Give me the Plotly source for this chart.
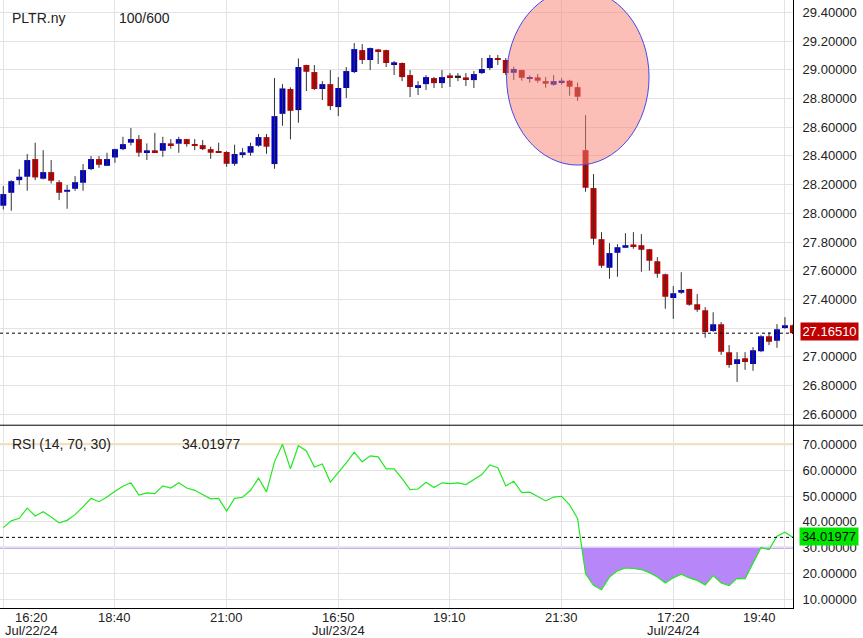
import plotly.graph_objects as go

# ---------------- data (10-minute bars) ----------------
open_ = [28.053, 28.143, 28.231, 28.255, 28.378, 28.241, 28.287, 28.217, 28.150, 28.171,
         28.213, 28.308, 28.378, 28.331, 28.389, 28.447, 28.492, 28.517, 28.427, 28.433,
         28.436, 28.482, 28.485, 28.517, 28.482, 28.475, 28.447, 28.427, 28.427, 28.345,
         28.413, 28.422, 28.471, 28.531, 28.343, 28.693, 28.866, 28.719, 29.033, 28.984,
         28.866, 28.900, 28.740, 28.873, 28.984, 29.137, 29.068, 29.137, 29.137, 29.040,
         29.047, 28.963, 28.873, 28.900, 28.942, 28.907, 28.956, 28.947, 28.942, 28.928,
         28.977, 29.012, 29.082, 29.068, 28.979, 28.998, 28.937, 28.947, 28.921, 28.896,
         28.912, 28.924, 28.879, 28.440, 28.176, 27.820, 27.620, 27.725, 27.760, 27.778,
         27.778, 27.750, 27.667, 27.576, 27.411, 27.446, 27.472, 27.367, 27.325, 27.181,
         27.228, 27.033, 26.951, 26.991, 26.951, 27.040, 27.144, 27.112, 27.202, 27.221]
close = [28.134, 28.224, 28.255, 28.371, 28.250, 28.287, 28.227, 28.143, 28.164, 28.217,
         28.301, 28.378, 28.338, 28.378, 28.447, 28.482, 28.517, 28.422, 28.436, 28.427,
         28.489, 28.475, 28.517, 28.482, 28.471, 28.447, 28.422, 28.422, 28.345, 28.413,
         28.422, 28.468, 28.531, 28.464, 28.677, 28.870, 28.714, 29.019, 28.986, 28.866,
         28.900, 28.747, 28.873, 28.991, 29.144, 29.068, 29.151, 29.130, 29.047, 29.049,
         28.949, 28.880, 28.893, 28.949, 28.907, 28.949, 28.949, 28.947, 28.935, 28.970,
         29.005, 29.082, 29.068, 28.977, 29.005, 28.944, 28.944, 28.924, 28.903, 28.921,
         28.921, 28.882, 28.812, 28.178, 27.823, 27.634, 27.723, 27.764, 27.778, 27.771,
         27.746, 27.669, 27.579, 27.418, 27.444, 27.465, 27.363, 27.328, 27.174, 27.228,
         27.035, 26.944, 26.984, 26.965, 27.047, 27.144, 27.105, 27.193, 27.221, 27.1651]
high = [28.190, 28.231, 28.308, 28.413, 28.492, 28.440, 28.371, 28.231, 28.197, 28.259,
        28.343, 28.399, 28.399, 28.422, 28.450, 28.533, 28.594, 28.545, 28.487, 28.561,
        28.533, 28.517, 28.533, 28.519, 28.517, 28.510, 28.464, 28.492, 28.433, 28.478,
        28.454, 28.492, 28.552, 28.552, 28.942, 28.900, 28.877, 29.079, 29.035, 29.033,
        28.921, 28.998, 28.949, 29.019, 29.186, 29.179, 29.155, 29.144, 29.140, 29.061,
        29.050, 28.998, 28.921, 28.963, 28.950, 28.998, 28.977, 28.977, 28.977, 28.991,
        29.082, 29.103, 29.103, 29.082, 29.021, 29.000, 28.961, 28.970, 28.949, 28.963,
        28.942, 28.930, 28.910, 28.684, 28.273, 27.869, 27.792, 27.785, 27.862, 27.869,
        27.855, 27.752, 27.695, 27.580, 27.493, 27.590, 27.475, 27.437, 27.346, 27.311,
        27.242, 27.082, 27.033, 27.033, 27.068, 27.151, 27.172, 27.228, 27.277, 27.225]
low = [28.027, 28.018, 28.199, 28.157, 28.231, 28.236, 28.208, 28.092, 28.032, 28.157,
       28.157, 28.301, 28.317, 28.329, 28.352, 28.440, 28.473, 28.394, 28.371, 28.422,
       28.394, 28.450, 28.422, 28.464, 28.440, 28.440, 28.380, 28.420, 28.324, 28.331,
       28.387, 28.401, 28.464, 28.415, 28.310, 28.610, 28.515, 28.631, 28.852, 28.859,
       28.789, 28.719, 28.677, 28.803, 28.977, 29.040, 28.998, 29.040, 29.019, 28.963,
       28.921, 28.810, 28.824, 28.859, 28.873, 28.873, 28.880, 28.921, 28.887, 28.873,
       28.970, 28.998, 29.033, 28.963, 28.928, 28.924, 28.910, 28.910, 28.875, 28.889,
       28.896, 28.819, 28.784, 28.150, 27.781, 27.620, 27.544, 27.558, 27.758, 27.753,
       27.593, 27.600, 27.551, 27.335, 27.265, 27.439, 27.356, 27.314, 27.133, 27.174,
       27.014, 26.924, 26.826, 26.910, 26.903, 27.033, 27.082, 27.063, 27.195, 27.160]
rsi = [37.8, 40.4, 41.4, 45.3, 42.3, 43.9, 41.9, 39.6, 40.6, 42.8,
       45.8, 49.1, 47.8, 49.6, 51.8, 53.8, 55.1, 50.4, 51.2, 50.9,
       53.9, 53.1, 55.1, 53.1, 52.2, 50.7, 48.9, 49.1, 44.2, 49.1,
       49.5, 52.2, 56.9, 51.6, 63.2, 70.0, 60.5, 69.4, 67.4, 61.2,
       62.4, 55.4, 58.9, 62.8, 66.9, 63.2, 65.5, 65.1, 60.5, 60.5,
       56.7, 52.5, 52.7, 55.3, 53.3, 55.1, 54.8, 55.1, 54.4, 56.3,
       58.3, 62.0, 60.9, 53.9, 55.7, 51.3, 51.5, 49.8, 48.1, 49.6,
       49.9, 46.6, 41.3, 20.0, 15.5, 13.8, 18.7, 21.1, 22.2, 22.0,
       21.6, 20.4, 18.7, 16.4, 18.4, 19.8, 18.4, 17.4, 15.6, 19.3,
       16.4, 15.4, 18.2, 18.0, 23.9, 30.1, 29.3, 34.5, 36.0, 34.01977]

tick_idx = [0, 14, 28, 42, 56, 70, 84, 98]
tick_time = ["16:20", "18:40", "21:00", "16:50", "19:10", "21:30", "17:20", "19:40"]
tick_date = ["Jul/22/24", "", "", "Jul/23/24", "", "", "Jul/24/24", ""]
symbol = "PLTR.ny"
bars_info = "100/600"
rsi_params = (14, 70, 30)
last_price = close[-1]
last_rsi = rsi[-1]

# ---------------- styling ----------------
FONT = "Liberation Sans, Arial, sans-serif"
UP, DOWN, FLAT, WICK = "#0000c4", "#c00000", "#222222", "#333333"
n = len(close)
x = list(range(n))

fig = go.Figure()

# wicks
wx, wy = [], []
for i in range(n):
    wx += [i, i, None]
    wy += [low[i], high[i], None]
fig.add_trace(go.Scatter(x=wx, y=wy, mode="lines", line=dict(color=WICK, width=1),
                         xaxis="x", yaxis="y", hoverinfo="skip"))

# bodies
base = [min(o, c) for o, c in zip(open_, close)]
height = [max(abs(c - o), 0.012) for o, c in zip(open_, close)]
colors = [UP if c > o else (DOWN if c < o else FLAT) for o, c in zip(open_, close)]
fig.add_trace(go.Bar(x=x, y=height, base=base, width=0.75, marker=dict(color=colors, line=dict(width=0)),
                     xaxis="x", yaxis="y", hoverinfo="skip"))

# RSI oversold fill (below 30)
lo = rsi_params[2]
fx, fy = [], []
for i in range(n):
    v = rsi[i]
    if i > 0:
        pv = rsi[i - 1]
        if (pv < lo) != (v < lo):
            t = (lo - pv) / (v - pv)
            fx.append(i - 1 + t); fy.append(lo)
            if not v < lo:
                fx.append(None); fy.append(None)
    if v < lo:
        fx.append(i); fy.append(v)
fig.add_trace(go.Scatter(x=fx, y=fy, mode="lines", fill="toself", fillcolor="#b786f8",
                         line=dict(width=0, color="#b786f8"), xaxis="x2", yaxis="y2", hoverinfo="skip"))
fig.add_trace(go.Scatter(x=x, y=rsi, mode="lines", line=dict(color="#22e822", width=1.2),
                         xaxis="x2", yaxis="y2", hoverinfo="skip"))

SPLIT = 182.7 / 607.7
shapes = [
    dict(type="line", xref="paper", yref="y2", x0=0, x1=1, y0=rsi_params[1], y1=rsi_params[1],
         line=dict(color="#f8d48c", width=2), layer="below"),
    dict(type="line", xref="paper", yref="y2", x0=0, x1=1, y0=lo, y1=lo,
         line=dict(color="#b48ef2", width=2), layer="below"),
    dict(type="line", xref="paper", yref="y", x0=0, x1=1, y0=last_price, y1=last_price,
         line=dict(color="black", width=1, dash="3px,3px"), layer="above"),
    dict(type="line", xref="paper", yref="y2", x0=0, x1=1, y0=last_rsi, y1=last_rsi,
         line=dict(color="black", width=1, dash="3px,3px"), layer="above"),
    dict(type="circle", xref="x", yref="y", x0=63.1, x1=80.96, y0=28.336, y1=29.562,
         fillcolor="rgba(250,128,114,0.5)", line=dict(color="rgb(70,70,235)", width=1), layer="above"),
    dict(type="line", xref="paper", yref="paper", x0=0, x1=863 / 793, y0=SPLIT, y1=SPLIT,
         line=dict(color="black", width=1)),
]

ann = []
tf = dict(family=FONT, size=14, color="#222222")
af = dict(family=FONT, size=13, color="#222222")
ann.append(dict(text=symbol, xref="paper", yref="paper", x=10 / 793, y=1, xanchor="left",
                yanchor="middle", yshift=-18, showarrow=False, font=tf))
ann.append(dict(text=bars_info, xref="paper", yref="paper", x=117 / 793, y=1, xanchor="left",
                yanchor="middle", yshift=-18, showarrow=False, font=tf))
ann.append(dict(text="RSI (%d, %d, %d)" % rsi_params, xref="paper", yref="y2", x=10 / 793, y=rsi_params[1],
                xanchor="left", yanchor="middle", showarrow=False, font=tf))
ann.append(dict(text="%.5f" % last_rsi, xref="paper", yref="y2", x=180 / 793, y=rsi_params[1],
                xanchor="left", yanchor="middle", showarrow=False, font=tf))
ann.append(dict(text="%.5f" % last_price, xref="paper", yref="y", x=1, y=last_price, xanchor="left",
                yanchor="middle", xshift=7, yshift=2, width=55, align="center", borderpad=1,
                bgcolor=DOWN, showarrow=False, font=dict(family=FONT, size=13, color="white")))
ann.append(dict(text="%.5f" % last_rsi, xref="paper", yref="y2", x=1, y=last_rsi, xanchor="left",
                yanchor="middle", xshift=6, yshift=1, width=56, align="center", borderpad=1,
                bgcolor="#00e600", showarrow=False, font=dict(family=FONT, size=13, color="black")))
for k, (ti, tt, td) in enumerate(zip(tick_idx, tick_time, tick_date)):
    shift = 28 if k == 0 else (-25 if k == len(tick_idx) - 1 else 0)
    ann.append(dict(text=tt, xref="x2", yref="paper", x=ti, y=0, xshift=shift, yshift=-9.5,
                    yanchor="middle", showarrow=False, font=af))
    if td:
        ann.append(dict(text=td, xref="x2", yref="paper", x=ti, y=0, xshift=shift, yshift=-22.5,
                        yanchor="middle", showarrow=False, font=af))

xr = [-3.3 / 7.976, (793 - 3.3) / 7.976]
grid = "#e3e3e3"
common_x = dict(tickmode="array", tickvals=tick_idx, showticklabels=False, ticks="",
                showgrid=True, gridcolor=grid, gridwidth=1, zeroline=False, fixedrange=True)

fig.update_layout(
    width=863, height=638,
    margin=dict(l=0, r=70, t=0, b=30.3),
    paper_bgcolor="white", plot_bgcolor="white",
    showlegend=False, hovermode=False, barmode="overlay",
    font=dict(family=FONT, size=13, color="#222222"),
    xaxis=dict(domain=[0, 1], anchor="y", range=xr, showline=False, **common_x),
    xaxis2=dict(domain=[0, 1], anchor="y2", matches="x", showline=True, linecolor="black", linewidth=1,
                **common_x),
    yaxis=dict(domain=[SPLIT, 1], anchor="x", side="right", range=[26.524, 29.486],
               tickmode="linear", tick0=26.6, dtick=0.2, tickformat=".5f",
               showgrid=True, gridcolor=grid, zeroline=False, showline=True, linecolor="black", linewidth=1,
               ticks="", ticklabelstandoff=6, tickfont=af),
    yaxis2=dict(domain=[0, SPLIT], anchor="x2", side="right", range=[6.75, 77.34],
                tickmode="linear", tick0=10, dtick=10, tickformat=".5f",
                showgrid=True, gridcolor=grid, zeroline=False, showline=True, linecolor="black", linewidth=1,
                ticks="", ticklabelstandoff=6, tickfont=af),
    shapes=shapes, annotations=ann,
)

fig.write_html("out.html", config={"displayModeBar": False},
               post_script="document.body.style.margin='0';document.body.style.padding='0';")
